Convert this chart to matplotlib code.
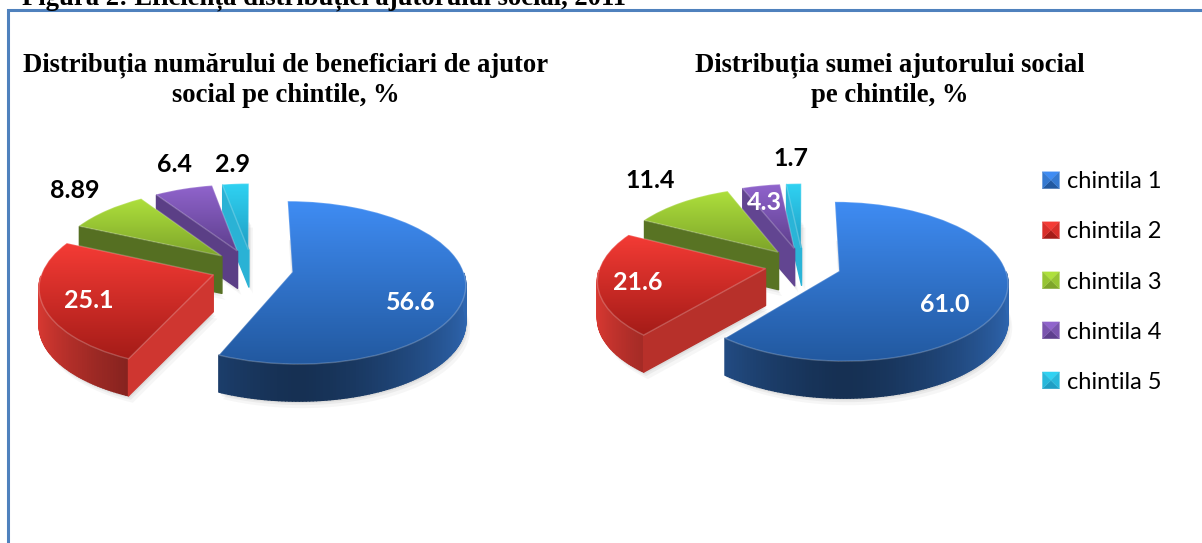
import numpy as np
import matplotlib
matplotlib.use('Agg')
import matplotlib.pyplot as plt
from matplotlib.collections import PolyCollection
from matplotlib.colors import to_rgb
from matplotlib.legend_handler import HandlerBase
from matplotlib.patches import Patch, Polygon
from matplotlib.transforms import Transform

W, H = 1202, 543

# data
categories = ['chintila 1', 'chintila 2', 'chintila 3', 'chintila 4', 'chintila 5']
beneficiari = [56.6, 25.1, 8.89, 6.4, 2.9]
suma = [61.0, 21.6, 11.4, 4.3, 1.7]
figure_title = 'Figura 2: Eficiența distribuției ajutorului social, 2011'
title_left = 'Distribuția numărului de beneficiari de ajutor\nsocial pe chintile, %'
title_right = 'Distribuția sumei ajutorului social\npe chintile, %'

# top surface colours, light (far) -> dark (near), and wall base colour
top_light = ['#3f8cf3', '#f43b35', '#aee03c', '#9064cc', '#30d2f2']
top_dark = ['#2259a0', '#a51c18', '#7ea52a', '#5e3f8e', '#1f9ec4']
wall_base = ['#2f68b4', '#e23b34', '#8eb939', '#6a4a9d', '#2bb8dc']
swatch_side = ['#3579d0', '#d82e29', '#96c433', '#7a54ae', '#28b8db']

# white / black label colours and where the labels sit
text_left = ['white', 'white', 'black', 'black', 'black']
text_right = ['white', 'white', 'black', 'white', 'black']
pos_left = [(411, 302), (89, 301), (75, 190), (174, 164), (233, 164)]
pos_right = [(945, 304), (638, 282), (650, 181), (764, 202), (791, 159)]


class Persp(Transform):
    """pie plane -> pixels, far side shrinks a bit"""
    input_dims = output_dims = 2

    def __init__(self, cx, cy, radius, tilt=0.465, p=0.13):
        super().__init__()
        self.cx, self.cy, self.radius, self.tilt, self.p = cx, cy, radius, tilt, p

    def transform_non_affine(self, values):
        xy = np.asarray(values, dtype=float)
        w = 1 + self.p * xy[:, 1] / self.radius
        return np.column_stack([self.cx + xy[:, 0] / w, self.cy - self.tilt * xy[:, 1] / w])


def draw_pie(ax, values, cx, cy, radius, gap, depth):
    wedges, _ = ax.pie(values, radius=radius, startangle=90, counterclock=False,
                       explode=[gap] * len(values), colors=top_light)
    proj = Persp(cx, cy, radius)
    for i, w in enumerate(wedges):
        z = 10 + 3 * (len(values) - i)
        t = np.radians(np.linspace(w.theta1, w.theta2, max(8, int(w.theta2 - w.theta1))))
        c = np.array(w.center)
        plane = np.vstack([c, c + w.r * np.column_stack([np.cos(t), np.sin(t)]), c])
        px = proj.transform_non_affine(plane)

        # soft shadow under the slice
        for off, a in [(7, 0.05), (4, 0.07), (2, 0.09)]:
            ax.add_patch(Polygon(px[:-1] + [off * 0.6, depth + off], closed=True, fc='#555555',
                                 ec='none', alpha=a, zorder=2))

        # walls, shaded by which way they face
        quads, shades = [], []
        base = np.array(to_rgb(wall_base[i]))
        for a, b, pa, pb in zip(plane[:-1], plane[1:], px[:-1], px[1:]):
            d = b - a
            n = np.array([d[1], -d[0]]) / max(np.hypot(*d), 1e-6)
            if n[1] >= -0.02:
                continue
            quads.append([pa, pb, pb + [0, depth], pa + [0, depth]])
            shades.append(base * (0.46 + 0.52 * abs(n[0]) ** 1.5))
        ax.add_collection(PolyCollection(quads, facecolors=shades, edgecolors=shades,
                                         linewidths=1.0, zorder=z))

        # top surface: vertical gradient clipped to the slice
        w.set_transform(proj + ax.transData)
        x0, x1 = px[:, 0].min(), px[:, 0].max()
        y0, y1 = px[:, 1].min(), px[:, 1].max()
        frac = np.linspace(0, 1, 64)[:, None, None]
        rgb = (1 - frac) * np.array(to_rgb(top_light[i])) + frac * np.array(to_rgb(top_dark[i]))
        im = ax.imshow(rgb, extent=(x0, x1, y1, y0), origin='upper', aspect='auto', zorder=z + 1)
        im.set_clip_path(w)
        w.set_facecolor('none')
        w.set_edgecolor((1, 1, 1, 0.22))
        w.set_linewidth(1.0)
        w.set_zorder(z + 2)


class PyramidHandler(HandlerBase):
    def __init__(self, light, dark, side):
        super().__init__()
        self.light, self.dark, self.side = light, dark, side

    def create_artists(self, legend, orig_handle, xdescent, ydescent, width, height, fontsize, trans):
        i = categories.index(orig_handle.get_label())
        x0, y0, x1, y1 = -xdescent, -ydescent, width - xdescent, height - ydescent
        mx, my = (x0 + x1) / 2, (y0 + y1) / 2
        sides = [([(x0, y1), (x1, y1), (mx, my)], self.light[i]),
                 ([(x0, y0), (x1, y0), (mx, my)], self.dark[i]),
                 ([(x0, y0), (x0, y1), (mx, my)], self.side[i]),
                 ([(x1, y0), (x1, y1), (mx, my)], self.side[i])]
        return [Polygon(v, closed=True, fc=c, ec=c, lw=0.2, transform=trans) for v, c in sides]


fig = plt.figure(figsize=(W / 100, H / 100), dpi=100)
ax = fig.add_axes([0, 0, 1, 1])

draw_pie(ax, beneficiari, 252, 268, 170, 41, 37)
draw_pie(ax, suma, 803, 265, 165, 38, 37)

ax.set_aspect('auto')
ax.set_xlim(0, W)
ax.set_ylim(H, 0)
ax.axis('off')

# frame of the text box, runs off the page
ax.plot([7.5, 7.5, W + 5], [H + 5, 9.5, 9.5], color='#4f81bd', lw=2.2, solid_joinstyle='miter', zorder=1)

serif = 'Liberation Serif'
ax.text(22, 4, figure_title, family=serif, weight='bold', fontsize=19.2, ha='left', va='baseline')
ax.text(286, 80, title_left, family=serif, weight='bold', fontsize=19.2, ha='center', va='center',
        linespacing=1.25)
ax.text(890, 80, title_right, family=serif, weight='bold', fontsize=19.2, ha='center', va='center',
        linespacing=1.25)

for vals, cols, pos in [(beneficiari, text_left, pos_left), (suma, text_right, pos_right)]:
    for v, c, (x, y) in zip(vals, cols, pos):
        ax.text(x, y, f'{v:.2f}' if v == 8.89 else f'{v:.1f}', color=c, family='Lato', weight='bold',
                fontsize=18, ha='center', va='center', zorder=40)

handles = [Patch(label=c) for c in categories]
ax.legend(handles=handles, loc='upper left', bbox_to_anchor=(1033 / W, 1 - 162 / H),
          frameon=False, prop={'family': 'Lato', 'size': 17}, handlelength=0.72, handleheight=0.72,
          handletextpad=0.3, labelspacing=1.23, borderpad=0.4, borderaxespad=0,
          handler_map={Patch: PyramidHandler(top_light, top_dark, swatch_side)})

fig.savefig('out.png', dpi=100)
